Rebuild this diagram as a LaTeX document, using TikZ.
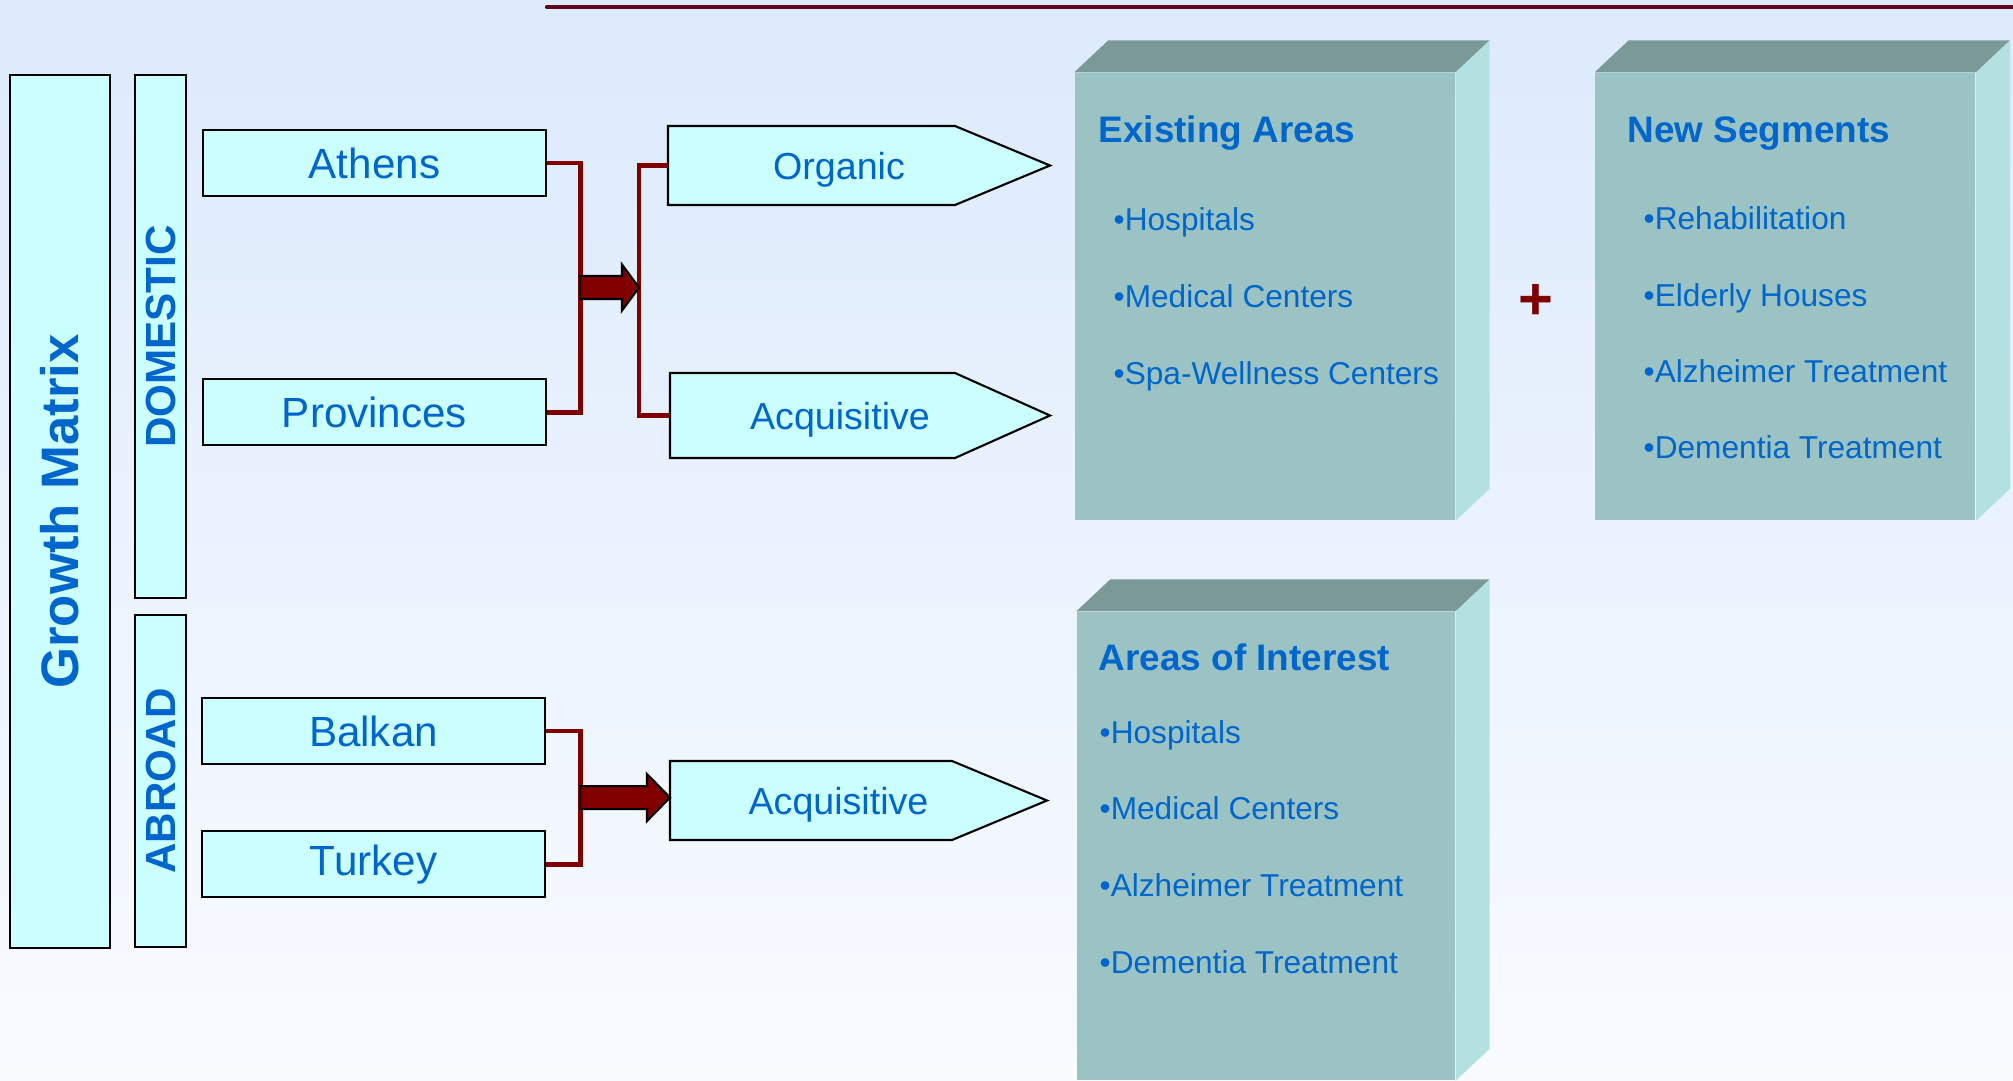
\documentclass[tikz,border=0pt]{standalone}
\usepackage{fontspec}
\setmainfont{Liberation Sans}
\usetikzlibrary{positioning, calc, backgrounds}
\definecolor{boxcyan}{HTML}{CCFFFF}
\definecolor{txtblue}{HTML}{0066CC}
\definecolor{darkred}{HTML}{800000}
\definecolor{cubefront}{HTML}{9CC3C3}
\definecolor{cubetop}{HTML}{7A9997}
\definecolor{cubeside}{HTML}{B3E1E1}
\definecolor{bgtop}{HTML}{DCEAFC}
\definecolor{bgbot}{HTML}{F9FBFF}
\definecolor{topline}{HTML}{5E0A1C}
\tikzset{every node/.append style={text=txtblue}, % all labels are blue
  sidebar/.style={ % the tall bars on the left
    draw, line width=0.6pt, fill=boxcyan, rotate=90, inner sep=0pt,
    font=\bfseries\fontsize{12}{14}\selectfont},
  region/.style={ % Athens, Provinces, ...
    draw, line width=0.6pt, fill=boxcyan, inner sep=0pt,
    minimum width=3.43cm, minimum height=0.66cm,
    font=\fontsize{12}{14}\selectfont},
  mode/.style={ % text of the pointed boxes, outline drawn behind it
    inner sep=0pt, outer sep=0pt, minimum width=3.82cm, minimum height=0.79cm,
    text depth=0pt,
    execute at begin node=\kern-4mm, % text sits a bit left of the middle
    font=\fontsize{10.7}{13}\selectfont},
  modeshape/.style={draw, line width=0.6pt, fill=boxcyan},
  bracket/.style={draw=darkred, line width=1.4pt},
  blockarrow/.style={draw=black, line width=0.6pt, fill=darkred, line join=miter},
  cube/.style={fill=cubefront, inner sep=0pt}, % front face only
  title/.style={anchor=base west, inner sep=0pt,
    font=\bfseries\fontsize{10.5}{12}\selectfont},
  item/.style={anchor=base west, inner sep=0pt,
    font=\fontsize{9}{11}\selectfont}}

\begin{document}
\begin{tikzpicture}
  \begin{scope}[on background layer]
    \shade[top color=bgtop, bottom color=bgbot] (0,0) rectangle (20.13,-10.80);
  \end{scope}
  \useasboundingbox (0,0) rectangle (20.13,-10.80);
  \draw[topline, line width=1.2pt, line cap=round] (5.47,-0.07) -- (20.3,-0.07);

  \node[sidebar, minimum width=8.73cm, minimum height=1.00cm,
    font=\bfseries\fontsize{15}{18}\selectfont] (growth) at (0.60,-5.115) {Growth Matrix};
  \node[sidebar, minimum width=5.23cm, minimum height=0.51cm] (domestic) at (1.605,-3.365) {DOMESTIC};
  \node[sidebar, minimum width=3.32cm, minimum height=0.51cm] (abroad) at (1.605,-7.81) {ABROAD};

  \node[region] (athens) at (3.745,-1.63) {Athens};
  \node[region, below=1.81cm of athens] (provinces) {Provinces};
  \node[region] (balkan) at (3.735,-7.31) {Balkan};
  \node[region, below=0.65cm of balkan] (turkey) {Turkey};

  \node[mode] (organic) at (8.59,-1.655) {Organic};
  \node[mode, minimum height=0.85cm, minimum width=3.80cm] (acqdom) at (8.60,-4.155) {Acquisitive};
  \node[mode, minimum width=3.77cm] (acqabr) at (8.585,-8.005) {Acquisitive};
  \begin{scope}[on background layer]
    \foreach \m in {organic, acqdom, acqabr}
      \draw[modeshape] (\m.north west) -- ($(\m.north east)+(-0.95,0)$) -- (\m.east)
        -- ($(\m.south east)+(-0.95,0)$) -- (\m.south west) -- cycle;
  \end{scope}

  \draw[bracket] (athens.east) -- ++(0.33,0) |- (provinces.east);
  \draw[bracket] (organic.west) -- ++(-0.29,0) |- (acqdom.west);
  \draw[bracket] (balkan.east) -- ++(0.34,0) |- (turkey.east);

  \coordinate (j1) at ($(athens.east)!0.5!(provinces.east)+(0.33,0)$);
  \coordinate (j2) at ($(organic.west |- j1)+(-0.29,0)$);
  \coordinate (j3) at ($(balkan.east)!0.5!(turkey.east)+(0.34,0)$);
  \coordinate (j4) at (acqabr.west |- j3);
  \draw[blockarrow] ($(j1)+(0,0.115)$) -- ($(j2)+(-0.17,0.115)$) -- ($(j2)+(-0.17,0.23)$) -- (j2)
    -- ($(j2)+(-0.17,-0.23)$) -- ($(j2)+(-0.17,-0.115)$) -- ($(j1)+(0,-0.115)$) -- cycle;
  \draw[blockarrow] ($(j3)+(0,0.115)$) -- ($(j4)+(-0.23,0.115)$) -- ($(j4)+(-0.23,0.235)$) -- (j4)
    -- ($(j4)+(-0.23,-0.235)$) -- ($(j4)+(-0.23,-0.115)$) -- ($(j3)+(0,-0.115)$) -- cycle;

  \node[cube, minimum width=3.80cm, minimum height=4.47cm] (exist) at (12.65,-2.965) {};
  \node[cube, minimum width=3.80cm, minimum height=4.47cm, right=1.39cm of exist] (newseg) {};
  \node[cube, minimum width=3.78cm, minimum height=4.68cm] (interest) at (12.66,-8.46) {};
  \foreach \c in {exist, newseg, interest}{
    \fill[cubetop] (\c.north west) -- ++(0.34,0.32) -- ($(\c.north east)+(0.34,0.32)$)
      -- (\c.north east) -- cycle;
    \fill[cubeside] (\c.north east) -- ++(0.34,0.32) -- ($(\c.south east)+(0.34,0.32)$)
      -- (\c.south east) -- cycle;
  }

  \node[text=darkred, font=\bfseries\fontsize{17}{19}\selectfont] (plus) at (15.36,-3.02) {+};

  \node[title] (existtitle) at (10.98,-1.43) {Existing Areas};
  \foreach \t [count=\i] in {Hospitals, Medical Centers, Spa-Wellness Centers}
    \node[item] (exist\i) at (11.13,{-2.31-0.765*(\i-1)}) {•\t};
  \node[title] (newtitle) at (16.27,-1.43) {New Segments};
  \foreach \t [count=\i] in {Rehabilitation, Elderly Houses, Alzheimer Treatment, Dementia Treatment}
    \node[item] (new\i) at (16.43,{-2.30-0.763*(\i-1)}) {•\t};
  \node[title] (interesttitle) at (10.98,-6.70) {Areas of Interest};
  \foreach \t [count=\i] in {Hospitals, Medical Centers, Alzheimer Treatment, Dementia Treatment}
    \node[item] (interest\i) at (10.99,{-7.43-0.767*(\i-1)}) {•\t};
\end{tikzpicture}
\end{document}
